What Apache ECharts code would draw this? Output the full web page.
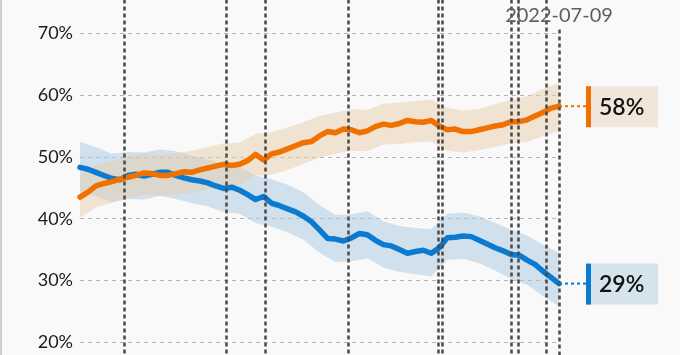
<!DOCTYPE html>
<html><head><meta charset="utf-8">
<script src="https://cdn.jsdelivr.net/npm/echarts@6/dist/echarts.min.js"></script>
<style>html,body{margin:0;padding:0;background:#f9f9f9}#c{width:680px;height:355px}</style>
</head><body><div id="c"></div>
<script>
// period index (equal steps) for the two trend lines
const periods = Array.from({length: 61}, (_, i) => i);
const disapprove = [43.5,44.3,45.3,45.7,46.0,46.4,46.7,47.0,47.4,47.3,47.0,47.0,47.3,47.6,47.5,47.9,48.2,48.5,48.8,48.6,48.8,49.4,50.4,49.5,50.5,50.8,51.3,51.8,52.3,52.5,53.4,54.1,53.9,54.5,54.4,53.9,54.2,54.9,55.3,55.1,55.4,55.9,55.7,55.6,55.9,55.0,54.4,54.5,54.1,54.1,54.4,54.7,55.0,55.2,55.7,55.7,56.0,56.6,57.2,57.9,58.2];
const approve = [48.3,48.0,47.5,47.0,46.5,46.3,47.0,47.2,46.9,47.2,47.5,47.5,47.0,46.6,46.3,46.1,45.8,45.3,44.9,45.1,44.6,43.9,43.1,43.6,42.5,42.1,41.6,41.1,40.4,39.5,38.2,36.8,36.7,36.4,36.9,37.6,37.4,36.5,35.8,35.6,35.0,34.4,34.7,34.9,34.4,35.3,36.9,37.0,37.2,37.1,36.5,35.9,35.3,34.8,34.2,34.1,33.3,32.6,31.5,30.5,29.5];
// uncertainty bands (every second period)
const bandPeriods = Array.from({length: 31}, (_, i) => i * 2);
const disapproveHigh = [47.0,48.6,49.3,50.1,50.6,50.4,50.6,51.0,51.6,52.2,52.3,53.7,54.0,54.7,55.6,56.6,57.2,57.7,57.6,58.6,58.8,59.0,59.3,57.9,57.5,57.8,58.5,59.3,59.8,61.0,62.0];
const disapproveLow = [40.2,41.8,42.6,43.3,44.0,43.7,43.9,44.2,44.8,45.5,45.4,47.0,47.1,47.9,48.9,49.9,50.5,51.0,50.9,52.0,52.1,52.4,52.5,51.0,50.7,51.1,51.6,52.2,52.4,53.4,54.2];
const approveHigh = [52.4,51.6,50.5,50.8,50.7,51.2,50.9,50.2,49.6,48.8,48.4,47.0,46.4,45.5,44.3,42.2,40.6,40.7,41.2,39.6,38.8,38.5,38.3,40.8,41.0,40.4,39.3,38.2,37.3,35.8,34.5];
const approveLow = [44.4,43.6,42.7,43.2,43.1,43.7,43.2,42.5,42.0,41.1,40.8,39.3,38.7,37.8,36.6,34.5,33.0,33.1,33.6,32.1,31.4,31.0,30.7,33.3,33.5,32.8,31.6,30.3,29.3,27.5,25.8];
// event markers (period positions) and label
const eventPeriods = [5.55, 18.38, 23.26, 33.57, 44.88, 45.43, 54.08, 54.9, 58.46];
const lastEventPeriod = 60;
const lastEventLabel = '2022-07-09';
const endLabels = ['58%', '29%'];
const yTicks = [10, 20, 30, 40, 50, 60, 70, 80];

const ORANGE = '#f07000', BLUE = '#0b7bd1';

function bandSeries(name, lo, hi, fill) {
  return {
    type: 'custom', name, silent: true, z: 1, clip: false,
    data: bandPeriods.map((x, i) => [x, lo[i], hi[i]]),
    renderItem: function (params, api) {
      if (params.dataIndex !== 0) return null;
      const pts = [];
      bandPeriods.forEach((x, i) => pts.push(api.coord([x, hi[i]])));
      for (let i = bandPeriods.length - 1; i >= 0; i--) pts.push(api.coord([bandPeriods[i], lo[i]]));
      return { type: 'polygon', shape: { points: pts }, style: { fill: fill } };
    }
  };
}

function endLabelSeries(value, text, color, bg) {
  return {
    type: 'custom', silent: true, z: 5, clip: false,
    data: [[lastEventPeriod, value]],
    renderItem: function (params, api) {
      const p = api.coord([api.value(0), api.value(1)]);
      return { type: 'group', children: [
        { type: 'line', shape: { x1: p[0], y1: p[1], x2: p[0] + 27, y2: p[1] }, style: { stroke: color, lineWidth: 2, lineDash: [3, 3] } },
        { type: 'rect', shape: { x: p[0] + 27, y: p[1] - 20, width: 72, height: 41 }, style: { fill: bg } },
        { type: 'rect', shape: { x: p[0] + 27, y: p[1] - 20, width: 5, height: 41 }, style: { fill: color } },
        { type: 'text', style: { x: p[0] + 40, y: p[1] + 1, text: text, fill: '#111', font: '600 23px Lato', verticalAlign: 'middle', align: 'left' } }
      ]};
    }
  };
}

const chart = echarts.init(document.getElementById('c'), null, { renderer: 'canvas' });
chart.setOption({
  animation: false,
  backgroundColor: '#f9f9f9',
  grid: { left: 80, right: 121, top: -28.5, bottom: -49.1, outerBoundsMode: 'none', containLabel: false },
  xAxis: { type: 'value', min: 0, max: 60, show: false },
  yAxis: {
    type: 'value', min: yTicks[0], max: yTicks[yTicks.length - 1], interval: 10,
    axisLine: { show: false }, axisTick: { show: false },
    axisLabel: { formatter: '{value}%', color: '#1a1a1a', fontFamily: 'Lato', fontSize: 18, margin: 7 },
    splitLine: { show: true, lineStyle: { color: '#b5b5b5', type: [4, 4], width: 1 } }
  },
  graphic: [{ type: 'rect', left: 0, top: 0, shape: { width: 2, height: 355 }, style: { fill: '#cfcfcf' } }],
  series: [
    bandSeries('approveBand', approveLow, approveHigh, 'rgba(167,202,225,0.5)'),
    bandSeries('disapproveBand', disapproveLow, disapproveHigh, 'rgba(231,205,171,0.5)'),
    {
      type: 'line', name: 'approve', z: 3, symbol: 'none', smooth: false,
      data: periods.map((x, i) => [x, approve[i]]),
      lineStyle: { color: BLUE, width: 5.5, join: 'round', cap: 'round' }
    },
    {
      type: 'line', name: 'disapprove', z: 4, symbol: 'none', smooth: false,
      data: periods.map((x, i) => [x, disapprove[i]]),
      lineStyle: { color: ORANGE, width: 5.5, join: 'round', cap: 'round' },
      markLine: {
        silent: true, symbol: ['none', 'none'], animation: false,
        lineStyle: { color: '#4a4a4a', width: 2.5, type: [4, 3] },
        label: { show: false },
        emphasis: { disabled: true },
        data: eventPeriods.map(x => [{ coord: [x, 80] }, { coord: [x, 10] }]).concat([[
          { coord: [lastEventPeriod, 70.6], label: { show: true, position: 'start', formatter: lastEventLabel, color: '#5e5e5e', fontFamily: 'Lato', fontSize: 20, distance: 4 } },
          { coord: [lastEventPeriod, 10] }
        ]])
      }
    },
    endLabelSeries(disapprove[disapprove.length - 1], endLabels[0], ORANGE, '#f1e6d9'),
    endLabelSeries(approve[approve.length - 1], endLabels[1], BLUE, '#d4e3ec')
  ]
});
</script></body></html>
